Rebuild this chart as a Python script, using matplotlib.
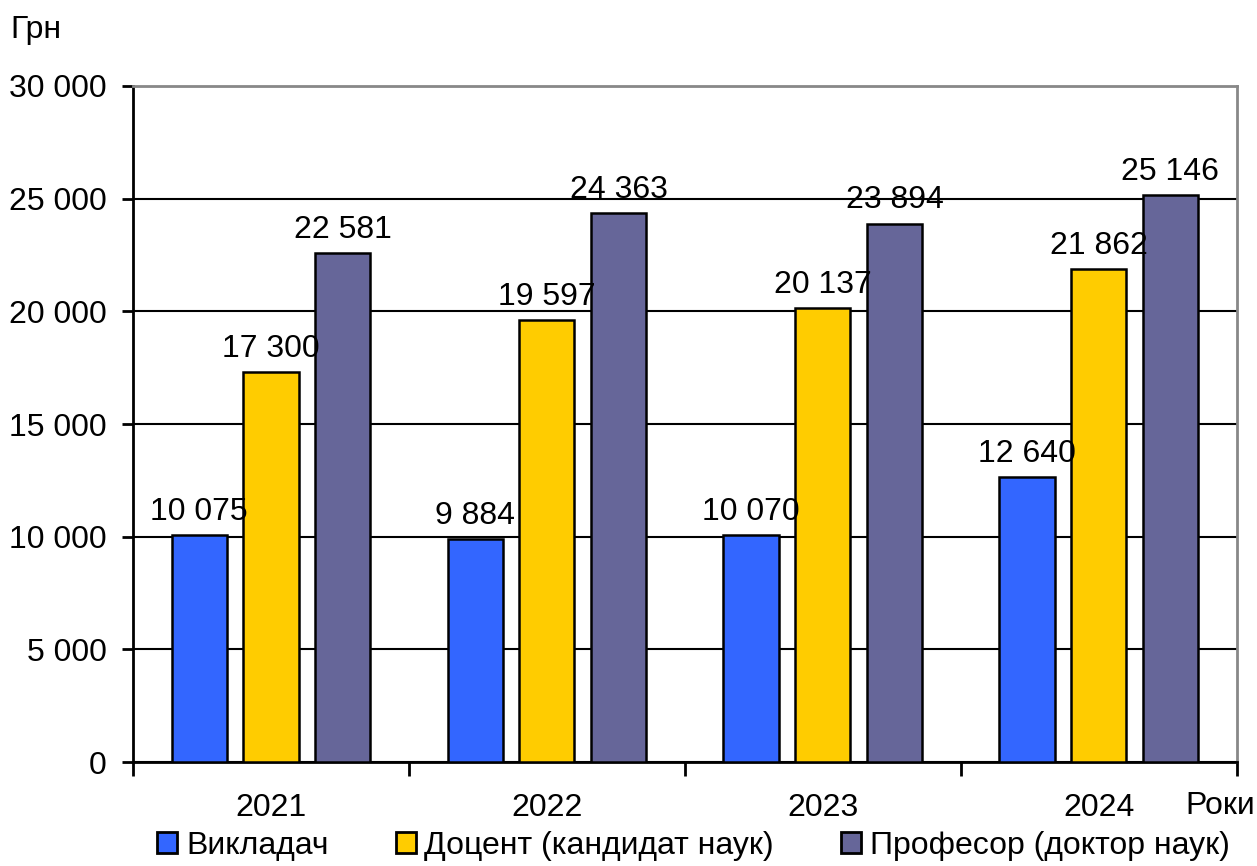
import numpy as np
import matplotlib
matplotlib.use('Agg')
import matplotlib.pyplot as plt
from matplotlib.patches import Patch

years = ['2021', '2022', '2023', '2024']
lecturer = [10075, 9884, 10070, 12640]
docent = [17300, 19597, 20137, 21862]
professor = [22581, 24363, 23894, 25146]
series_names = ['Викладач', 'Доцент (кандидат наук)', 'Професор (доктор наук)']
colors = ['#3366FF', '#FFCC00', '#666699']

plt.rcParams['font.family'] = ['Liberation Sans', 'DejaVu Sans']
FS = 23

def fmt(v):
    return f"{v:,}".replace(',', ' ')

fig = plt.figure(figsize=(12.57, 8.66), dpi=100)
ax = fig.add_axes([0.1058, 0.120, 0.878, 0.7807])

x = np.arange(len(years))
width = 0.2
offsets = [-0.26, 0, 0.26]
for vals, off, col in zip([lecturer, docent, professor], offsets, colors):
    bars = ax.bar(x + off, vals, width, color=col, edgecolor='black', linewidth=1.8, zorder=3)
    for b, v in zip(bars, vals):
        ax.annotate(fmt(v), (b.get_x() + b.get_width() / 2, v), xytext=(0, 6),
                    textcoords='offset points', ha='center', va='bottom', fontsize=FS, zorder=4)

ax.set_xlim(-0.5, len(years) - 0.5)
ax.set_ylim(0, 30000)
ax.set_yticks(range(0, 30001, 5000))
ax.set_yticklabels([fmt(v) for v in range(0, 30001, 5000)], fontsize=FS)
ax.yaxis.grid(True, color='black', linewidth=1.5, zorder=0)
ax.set_axisbelow(True)

# category boundaries as ticks, labels centered between
ax.set_xticks(np.arange(-0.5, len(years), 1.0))
ax.set_xticklabels([])
ax.set_xticks(x, minor=True)
ax.set_xticklabels(years, minor=True, fontsize=FS)
ax.tick_params(axis='x', which='minor', length=0, pad=22)
ax.tick_params(axis='x', which='major', length=10, width=2, direction='out')
ax.tick_params(axis='y', length=8, width=2, direction='out', pad=11)

for s in ['left', 'bottom']:
    ax.spines[s].set_color('black')
    ax.spines[s].set_linewidth(2)
for s in ['top', 'right']:
    ax.spines[s].set_color('#888888')
    ax.spines[s].set_linewidth(2)

fig.text(10 / 1257, 1 - 30 / 866, 'Грн', fontsize=FS, ha='left', va='center')
fig.text(1185 / 1257, 1 - 806 / 866, 'Роки', fontsize=FS, ha='left', va='center')

handles = [Patch(facecolor=c, edgecolor='black', linewidth=2) for c in colors]
fig.legend(handles, series_names, loc='center', bbox_to_anchor=(0.5517, 1 - 846 / 866),
           ncol=3, frameon=False, fontsize=FS, handlelength=0.63, handleheight=0.63,
           handletextpad=0.27, columnspacing=2.1, borderaxespad=0)

fig.savefig('out.png', dpi=100)
